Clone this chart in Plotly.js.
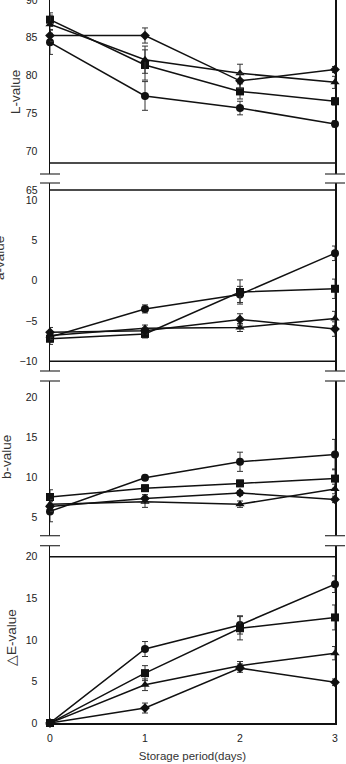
<!DOCTYPE html>
<html>
<head>
<meta charset="utf-8">
<script src="https://cdn.plot.ly/plotly-3.0.1.min.js"></script>
<style>html,body{margin:0;padding:0;background:#fff;}#chart{width:346px;height:764px;}</style>
</head>
<body>
<div id="chart"></div>
<script>
// ---- data ----
const days = [0, 1, 2, 3];
const xTickLabels = ['0', '1', '2', '3'];

// L-value
const L_circle   = [84.4, 77.3, 75.7, 73.6];
const L_square   = [87.4, 81.4, 77.9, 76.6];
const L_triangle = [86.8, 82.1, 80.3, 79.1];
const L_diamond  = [85.3, 85.3, 79.3, 80.8];
const L_circle_err   = [1.6, 1.9, 0.9, 0.4];
const L_square_err   = [0.9, 2.0, 1.0, 0.5];
const L_triangle_err = [1.2, 1.8, 1.2, 0.8];
const L_diamond_err  = [0.8, 1.0, 1.0, 0.4];

// a-value
const a_circle   = [-7.0, -3.5, -1.7, 3.4];
const a_square   = [-7.2, -6.6, -1.4, -1.0];
const a_triangle = [-6.8, -5.9, -5.8, -4.7];
const a_diamond  = [-6.4, -6.2, -4.8, -6.0];
const a_circle_err   = [0.6, 0.5, 1.0, 0.9];
const a_square_err   = [0.7, 0.5, 1.5, 1.2];
const a_triangle_err = [0.5, 0.4, 0.5, 0.9];
const a_diamond_err  = [0.6, 0.4, 0.7, 0.9];

// b-value
const b_circle   = [5.7, 9.9, 11.9, 12.8];
const b_square   = [7.5, 8.6, 9.2, 9.8];
const b_triangle = [6.6, 6.9, 6.6, 8.5];
const b_diamond  = [6.3, 7.3, 8.0, 7.2];
const b_circle_err   = [1.3, 0.3, 1.2, 1.9];
const b_square_err   = [0.9, 0.4, 0.4, 1.2];
const b_triangle_err = [0.6, 0.7, 0.4, 0.6];
const b_diamond_err  = [0.6, 0.5, 0.3, 0.4];

// delta E
const dE_circle   = [0, 8.9, 11.8, 16.7];
const dE_square   = [0, 6.0, 11.4, 12.7];
const dE_triangle = [0, 4.6, 6.9, 8.4];
const dE_diamond  = [0, 1.8, 6.6, 4.9];
const dE_circle_err   = [0, 0.9, 1.1, 1.0];
const dE_square_err   = [0, 0.9, 1.4, 1.5];
const dE_triangle_err = [0, 0.7, 0.5, 0.8];
const dE_diamond_err  = [0, 0.6, 0.5, 0.4];

const yTitles = ['L-value', 'a-value', 'b-value', '\u25B3E-value'];
const L_ticks = [70, 75, 80, 85, 90];
const a_ticks = [-10, -5, 0, 5, 10];
const b_ticks = [5, 10, 15, 20];
const dE_ticks = [0, 5, 10, 15, 20];

// ---- build ----
const symbols = ['circle', 'square', 'triangle-up', 'diamond'];
const sizes = [8, 8, 8, 7.5];
const panels = [
  {axis: 'y',  series: [L_circle, L_square, L_triangle, L_diamond], errs: [L_circle_err, L_square_err, L_triangle_err, L_diamond_err]},
  {axis: 'y2', series: [a_circle, a_square, a_triangle, a_diamond], errs: [a_circle_err, a_square_err, a_triangle_err, a_diamond_err]},
  {axis: 'y3', series: [b_circle, b_square, b_triangle, b_diamond], errs: [b_circle_err, b_square_err, b_triangle_err, b_diamond_err]},
  {axis: 'y4', series: [dE_circle, dE_square, dE_triangle, dE_diamond], errs: [dE_circle_err, dE_square_err, dE_triangle_err, dE_diamond_err]}
];

const traces = [];
panels.forEach(p => {
  p.series.forEach((vals, i) => {
    traces.push({
      type: 'scatter', mode: 'lines+markers',
      x: days, y: vals, xaxis: 'x', yaxis: p.axis,
      cliponaxis: false,
      line: {color: '#111', width: 1.5},
      marker: {symbol: symbols[i], size: sizes[i], color: '#111'},
      error_y: {type: 'data', array: p.errs[i], visible: true, color: '#333', thickness: 1, width: 3},
      showlegend: false, hoverinfo: 'skip'
    });
  });
});

const W = 346, H = 764, ML = 50, MR = 11, MT = 0, MB = 41;
const plotW = W - ML - MR, plotH = H - MT - MB;
const px2x = px => (px - ML) / plotW;
const py2y = py => 1 - (py - MT) / plotH;

const tickFont = {family: 'Liberation Sans, Arial, sans-serif', size: 10.5, color: '#222'};
const yBase = {
  showline: true, mirror: true, linecolor: '#111', linewidth: 1.5,
  showgrid: false, zeroline: false, ticks: '', tickfont: tickFont,
  ticklabelstandoff: 9, anchor: 'x', fixedrange: true
};

const blk = {color: '#111', width: 1.5};
const brk = {color: '#333', width: 1.2};
const shapes = [
  {type: 'line', xref: 'x', yref: 'y', x0: 0, x1: 3, y0: 68.42, y1: 68.42, line: blk},
  {type: 'line', xref: 'x', yref: 'y2', x0: 0, x1: 3, y0: 11.25, y1: 11.25, line: blk},
  {type: 'line', xref: 'x', yref: 'y2', x0: 0, x1: 3, y0: -10, y1: -10, line: blk},
  {type: 'line', xref: 'x', yref: 'y4', x0: 0, x1: 3, y0: 20, y1: 20, line: blk}
];
const d = 10 / plotW;
[['y domain', 0], ['y2 domain', 1], ['y2 domain', 0], ['y3 domain', 1], ['y3 domain', 0], ['y4 domain', 1]].forEach(([ref, yy]) => {
  shapes.push({type: 'line', xref: 'paper', yref: ref, x0: -d, x1: d, y0: yy, y1: yy, line: brk});
  shapes.push({type: 'line', xref: 'paper', yref: ref, x0: 1 - d, x1: 1 + d, y0: yy, y1: yy, line: brk});
});

const titleFont = {family: 'Liberation Sans, Arial, sans-serif', size: 13.5, color: '#333'};
const titlePos = [[15, 92], [-1, 258], [6, 457], [11, 638]];
const annotations = yTitles.map((t, i) => ({
  text: t, xref: 'paper', yref: 'paper', x: px2x(titlePos[i][0]), y: py2y(titlePos[i][1]),
  xanchor: 'center', yanchor: 'middle', textangle: -90, showarrow: false, font: titleFont
}));
annotations.push({text: '65', xref: 'paper', yref: 'y2', x: px2x(40), y: 11.25, xanchor: 'right', yanchor: 'middle', showarrow: false, font: tickFont});
annotations.push({text: '90', xref: 'paper', yref: 'y', x: px2x(40), y: 90, xanchor: 'right', yanchor: 'middle', showarrow: false, font: tickFont});

const layout = {
  width: W, height: H,
  margin: {l: ML, r: MR, t: MT, b: MB},
  paper_bgcolor: '#fff', plot_bgcolor: '#fff',
  showlegend: false,
  xaxis: {
    range: [0, 3], anchor: 'y4', tickvals: days, ticktext: xTickLabels,
    showgrid: false, zeroline: false, showline: true, linecolor: '#111', linewidth: 1.5,
    ticks: '', tickfont: tickFont, ticklabelstandoff: 5, fixedrange: true,
    title: {text: 'Storage period(days)', font: {family: 'Liberation Sans, Arial, sans-serif', size: 11.5, color: '#333'}, standoff: 9}
  },
  yaxis: Object.assign({}, yBase, {domain: [py2y(174), 1], range: [66.97, 90.0], tickvals: L_ticks}),
  yaxis2: Object.assign({}, yBase, {domain: [py2y(371), py2y(183)], range: [-11.2, 12.12], tickvals: a_ticks}),
  yaxis3: Object.assign({}, yBase, {domain: [py2y(535.7), py2y(381)], range: [2.66, 22], tickvals: b_ticks}),
  yaxis4: Object.assign({}, yBase, {domain: [0, py2y(545.7)], range: [0, 21.33], tickvals: dE_ticks}),
  shapes: shapes,
  annotations: annotations
};

Plotly.newPlot('chart', traces, layout, {displayModeBar: false, staticPlot: true});
</script>
</body>
</html>
